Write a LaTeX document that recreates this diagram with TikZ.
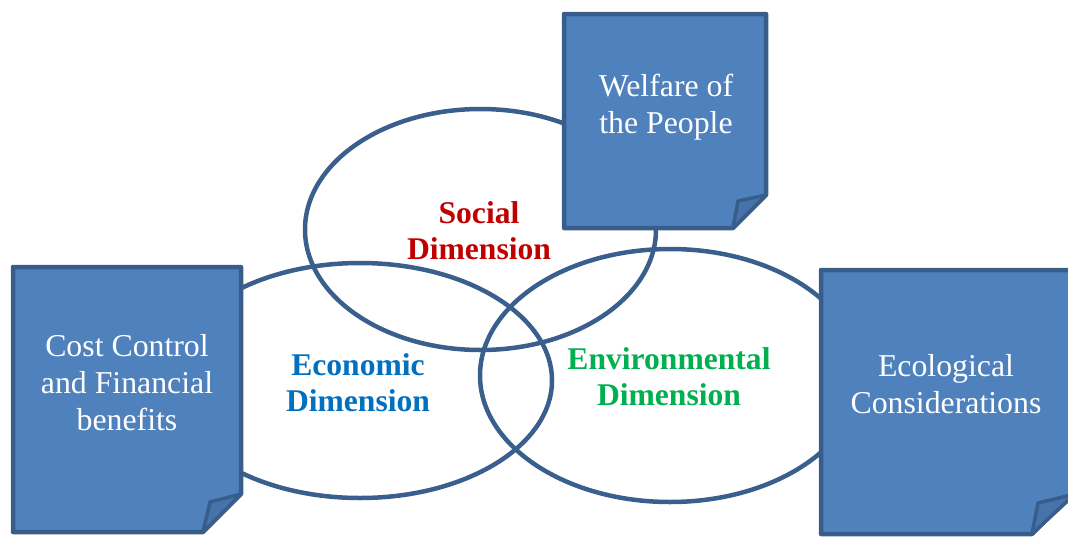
\documentclass[tikz,border=0pt]{standalone}
\usepackage{fontspec}
\setmainfont{Liberation Serif}
\usetikzlibrary{shapes.geometric}
\definecolor{boxfill}{HTML}{4F81BD}
\definecolor{boxline}{HTML}{385D8A}
\definecolor{ringline}{HTML}{3B5F8C}
\definecolor{foldfill}{HTML}{4673AC}
\definecolor{socialred}{HTML}{C00000}
\definecolor{econblue}{HTML}{0070C0}
\definecolor{envgreen}{HTML}{00B050}
\begin{document}
\begin{tikzpicture}[x=1pt,y=-1pt,
  ring/.style={draw=ringline, line width=4.5pt, ellipse, inner sep=0pt, outer sep=0pt},
  boxshape/.style={fill=boxfill, draw=boxline, line width=4.5pt, line join=round},
  foldshape/.style={fill=foldfill, draw=boxline, line width=3.5pt, line join=round},
  boxtext/.style={text=white, align=center, font=\fontsize{31.8}{37}\selectfont},
  dimtext/.style={align=center, font=\bfseries\fontsize{31.6}{36}\selectfont},
]
\useasboundingbox (0,0) rectangle (1068,536);
\clip (0,0) rectangle (1068,536);
% rings
\node[ring, minimum width=351pt, minimum height=241pt] (social) at (480.5,229.5) {};
\node[ring, minimum width=384pt, minimum height=235pt] (economic) at (360,380.5) {};
\node[ring, minimum width=380pt, minimum height=253pt] (environmental) at (670,375.5) {};
% boxes
\draw[boxshape] (564,14) -- (766,14) -- (766,195) -- (733,228) -- (564,228) -- cycle;
\draw[foldshape] (733,228) .. controls (735,214) .. (738,201) -- (766,195) -- cycle;
\draw[boxshape] (13,267) -- (241,267) -- (241,494) -- (203,532) -- (13,532) -- cycle;
\draw[foldshape] (203,532) .. controls (206,517) .. (210,502) -- (241,494) -- cycle;
\draw[boxshape] (821,270) -- (1075,270) -- (1075,491) -- (1032,534) -- (821,534) -- cycle;
\draw[foldshape] (1032,534) .. controls (1035,518) .. (1038,503) -- (1075,494) -- cycle;
% texts
\node[boxtext] (welfare) at (666,107) {Welfare of\\the People};
\node[boxtext] (cost) at (127,383) {Cost Control\\and Financial\\benefits};
\node[boxtext] (ecological) at (946,384) {Ecological\\Considerations};
\node[dimtext, text=socialred] (socialtext) at (479,231) {Social\\Dimension};
\node[dimtext, text=econblue] (economictext) at (358,383) {Economic\\Dimension};
\node[dimtext, text=envgreen] (environmentaltext) at (669,377) {Environmental\\Dimension};
\end{tikzpicture}
\end{document}
